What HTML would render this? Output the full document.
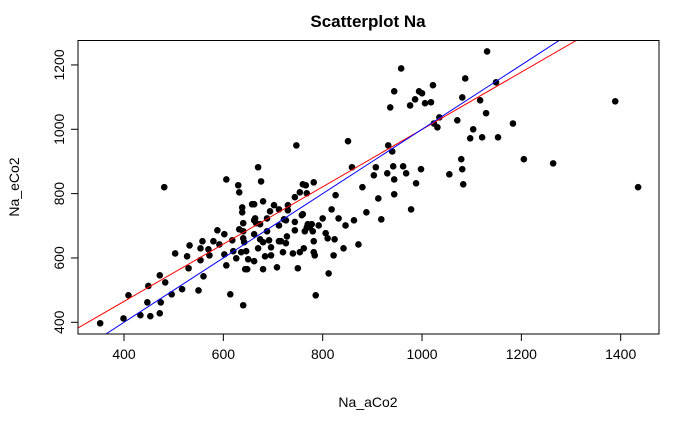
<!DOCTYPE html>
<html><head><meta charset="utf-8"><style>
html,body{margin:0;padding:0;background:#fff;width:700px;height:432px;overflow:hidden}
text{font-family:"Liberation Sans",Arial,sans-serif}
</style></head><body>
<svg id="chart" width="700" height="432" xmlns="http://www.w3.org/2000/svg">
<rect width="700" height="432" fill="#fff"/>
<text x="368" y="27" text-anchor="middle" font-size="17" font-weight="bold">Scatterplot Na</text>
<text x="368" y="407" text-anchor="middle" font-size="14">Na_aCo2</text>
<text x="0" y="0" transform="translate(19,187) rotate(-90)" text-anchor="middle" font-size="14">Na_eCo2</text>
<g id="axes"></g><g id="marks"></g><g id="lines"></g>
<rect x="78" y="40.5" width="581" height="293.5" fill="none" stroke="#000" stroke-width="1"/>
</svg>
<script>
const xTicks=[400,600,800,1000,1200,1400];
const yTicks=[400,600,800,1000,1200];
const xVals=[352,399,409,433,449,447,453,472,474,472,483,481,496,503,517,527,530,532,550,554,554,558,560,570,572,580,588,592,602,602,606,606,614,618,620,626,630,632,632,636,638,638,640,640,640,640,642,646,644,648,650,658,662,662,662,664,666,662,670,670,674,676,674,680,680,680,684,688,688,692,694,696,696,702,708,712,712,712,716,720,722,726,728,726,730,730,740,744,747,744,744,750,754,754,758,760,760,762,764,766,768,768,770,774,778,780,782,782,782,784,786,792,800,806,810,812,818,822,824,826,832,842,846,851,859,863,872,880,888,903,907,912,918,930,932,940,942,944,944,936,944,958,962,968,976,978,986,988,994,1000,998,1006,1018,1022,1024,1031,1035,1055,1071,1079,1081,1081,1083,1087,1097,1103,1117,1121,1129,1131,1149,1153,1183,1205,1264,1389,1435];
const yVals=[397,412,484,422,513,462,419,546,462,428,524,820,487,614,503,605,568,639,499,630,593,652,543,627,608,652,686,642,674,611,844,577,487,655,621,599,826,804,689,618,757,742,708,453,683,661,649,621,565,565,596,767,767,717,674,723,708,590,882,630,705,838,658,776,649,565,605,683,723,655,745,633,608,764,571,751,652,701,652,618,720,646,667,717,764,748,614,789,950,712,686,568,618,804,733,829,736,630,683,826,801,695,705,695,705,683,835,652,618,608,484,701,723,677,661,552,751,608,658,795,723,630,701,963,882,717,642,820,742,857,882,785,720,863,950,931,885,844,798,1068,1118,1189,885,863,1074,751,1093,832,1118,1112,876,1081,1084,1137,1018,1006,1037,860,1028,907,1099,876,829,1158,972,1000,1090,975,1050,1242,1146,975,1018,907,894,1087,820];
const regIntercept=108.5, regSlope=0.891;
const idIntercept=0, idSlope=1;
const X=v=>124+(v-400)*0.4967, Y=v=>322.3-(v-400)*0.3217;
const NS="http://www.w3.org/2000/svg";
const ax=document.getElementById('axes'),mk=document.getElementById('marks'),ln=document.getElementById('lines');
function mkEl(t,a,p){const e=document.createElementNS(NS,t);for(const k in a)e.setAttribute(k,a[k]);p.appendChild(e);return e;}
xTicks.forEach(t=>{
 const l=mkEl('line',{x1:X(t),x2:X(t),y1:334,y2:341,stroke:'#000'},ax);
 
 
 const s=mkEl('text',{x:X(t),y:359,'text-anchor':'middle','font-size':14},ax);s.textContent=t;
 
 
});
yTicks.forEach(t=>{
 const l=mkEl('line',{x1:71,x2:78,y1:Y(t),y2:Y(t),stroke:'#000'},ax);
 
 
 const s=mkEl('text',{x:0,y:0,transform:`translate(64,${Y(t)}) rotate(-90)`,'text-anchor':'middle','font-size':14},ax);s.textContent=t;
 
 
});
xVals.forEach((v,i)=>{
 const c=mkEl('circle',{cx:X(v),cy:Y(yVals[i]),r:3.3,fill:'#000'},mk);
 
 
});
const cp=mkEl('clipPath',{id:'clip'},ln);mkEl('rect',{x:78,y:40.5,width:581,height:293.5},cp);
function abline(a,b,col,name){
 const x0=250,x1=1500;
 const l=mkEl('line',{x1:X(x0),y1:Y(a+b*x0),x2:X(x1),y2:Y(a+b*x1),stroke:col,'stroke-width':1,'clip-path':'url(#clip)'},ln);
 
 
}
abline(regIntercept,regSlope,'#ff0000','regression-line');
abline(idIntercept,idSlope,'#0000ff','identity-line');
</script>
</body></html>
